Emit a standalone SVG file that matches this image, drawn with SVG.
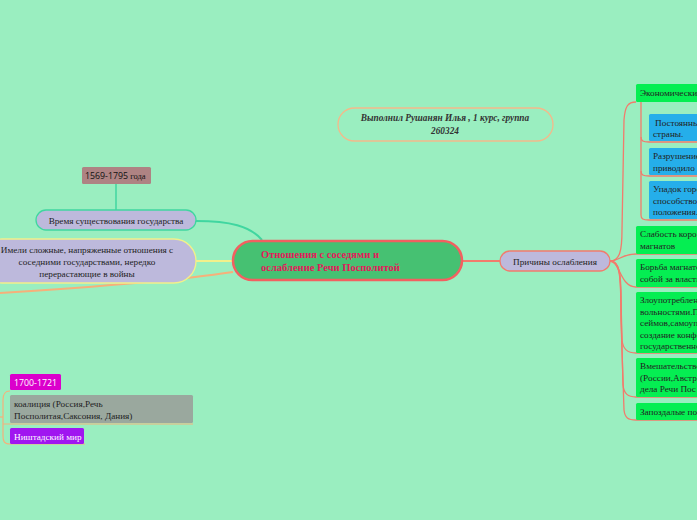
<svg xmlns="http://www.w3.org/2000/svg" width="697" height="520" viewBox="0 0 697 520">
<style>
.s{font-family:"Liberation Serif","DejaVu Serif",serif;}
.ss{font-family:"Open Sans","DejaVu Sans",sans-serif;}
.t8{font-size:9.2px;fill:#222;}
.g{fill:#05ee52;}
.b{fill:#25aeea;}
.ln{fill:none;stroke:#f27b6c;stroke-width:1.3;}
</style>
<rect width="697" height="520" fill="#9aeec0"/>
<g id="connectors" fill="none">
<line x1="116" y1="184" x2="116" y2="210" stroke="#40d6a0" stroke-width="1.5"/>
<path d="M196 221 C230 221 250 226 262 240" stroke="#40d6a0" stroke-width="2"/>
<line x1="196" y1="261" x2="232" y2="261" stroke="#f2f08a" stroke-width="2"/>
<path d="M233 272 C180 280 80 288 0 293" stroke="#f6b07a" stroke-width="2"/>
<path d="M10 391 C4 391 3 395 3 400 L3 436 C3 441 4 444 10 444" stroke="#f6b07a" stroke-width="1.2"/>
<line x1="0" y1="417" x2="3" y2="417" stroke="#f6b07a" stroke-width="1.2"/>
<line x1="3" y1="424" x2="193" y2="424" stroke="#f6b07a" stroke-width="1.2"/>
<line x1="10" y1="444" x2="85" y2="444" stroke="#f6b07a" stroke-width="1.2"/>
<line x1="463" y1="261" x2="500" y2="261" stroke="#f27b6c" stroke-width="2"/>
<path class="ln" d="M610 261 C620 261 622 250 622 230 L624 120 C625 106 628 102 636 102"/>
<path class="ln" d="M610 261 C620 261 621 254 636 254"/>
<path class="ln" d="M610 261 C620 261 620 287 636 287"/>
<path class="ln" d="M610 261 C620 261 621 275 621 300 L622 340 C623 350 628 353 636 353"/>
<path class="ln" d="M610 261 C620 261 621 275 621 310 L623 385 C624 394 628 397 636 397"/>
<path class="ln" d="M610 261 C620 261 621 275 621 320 L624 410 C625 418 628 420 636 420"/>
<line class="ln" x1="636" y1="254" x2="697" y2="254"/>
<line class="ln" x1="636" y1="287" x2="697" y2="287"/>
<line class="ln" x1="636" y1="353" x2="697" y2="353"/>
<line class="ln" x1="636" y1="397" x2="697" y2="397"/>
<line class="ln" x1="636" y1="420" x2="697" y2="420"/>
<path class="ln" d="M641 102 L641 215 C641 219 643 220 649 220 L697 220"/>
<path class="ln" d="M641 137 C641 141 643 142 649 142 L697 142"/>
<path class="ln" d="M641 171 C641 175 643 176 649 176 L697 176"/>
</g>
<g id="central">
<rect x="233" y="241" width="229" height="39" rx="19.5" fill="#46c172" stroke="#f26060" stroke-width="2.5"/>
<text class="s" x="261" y="258" font-size="10.5" font-weight="bold" fill="#e3185a">Отношения с соседями и</text>
<text class="s" x="261" y="271" font-size="10.5" font-weight="bold" fill="#e3185a">ослабление Речи Посполитой</text>
</g>
<g id="author">
<rect x="338" y="108" width="215" height="33" rx="16.5" fill="none" stroke="#f4b98a" stroke-width="1.3"/>
<text class="s" x="445" y="121" font-size="9.3" font-style="italic" font-weight="bold" fill="#333" text-anchor="middle">Выполнил Рушанян Илья , 1 курс, группа</text>
<text class="s" x="445" y="133.5" font-size="9.3" font-style="italic" font-weight="bold" fill="#333" text-anchor="middle">260324</text>
</g>
<g id="years">
<rect x="82" y="167" width="69" height="17" rx="1.5" fill="#ae8383"/>
<text x="85" y="179" font-size="8.8" fill="#111"><tspan class="ss">1569-1795</tspan><tspan class="s" font-size="8.5"> года</tspan></text>
</g>
<g id="time">
<rect x="36" y="210" width="160" height="20" rx="10" fill="#bdb9dc" stroke="#40d6a0" stroke-width="1.3"/>
<text class="s t8" x="116" y="223.5" text-anchor="middle">Время существования государства</text>
</g>
<g id="relations">
<rect x="-20" y="239" width="216" height="44" rx="22" fill="#bdb9dc" stroke="#f2f08a" stroke-width="1.3"/>
<text class="s t8" x="87" y="252.5" text-anchor="middle">Имели сложные, напряженные  отношения с</text>
<text class="s t8" x="87" y="264.5" text-anchor="middle">соседними государствами, нередко</text>
<text class="s t8" x="87" y="276.5" text-anchor="middle">перерастающие в войны</text>
</g>
<g id="y1700">
<rect x="10" y="374" width="51" height="16" rx="1.5" fill="#db00cc"/>
<text class="ss" x="14" y="385.5" font-size="8.8" fill="#fff">1700-1721</text>
</g>
<g id="coalition">
<rect x="10" y="395" width="183" height="28" rx="1.5" fill="#9aa89e"/>
<text class="s t8" x="14" y="407">коалиция (Россия,Речь</text>
<text class="s t8" x="14" y="418.5">Посполитая,Саксония, Дания)</text>
</g>
<g id="nystad">
<rect x="10" y="428" width="74" height="16" rx="1.5" fill="#a016f0"/>
<text class="s" x="14" y="439.5" font-size="9.2" fill="#fff">Ништадский мир</text>
</g>
<g id="causes">
<rect x="500" y="251" width="110" height="20" rx="10" fill="#bdb9dc" stroke="#f27b6c" stroke-width="1.3"/>
<text class="s t8" x="555" y="264.5" text-anchor="middle">Причины ослабления</text>
</g>
<g id="econ">
<rect class="g" x="636" y="84" width="70" height="18" rx="1.5"/>
<text class="s t8" x="640" y="96">Экономические</text>
</g>
<g id="econ1">
<rect class="b" x="649" y="114" width="60" height="27" rx="1.5"/>
<text class="s t8" x="655" y="125.5">Постоянны</text>
<text class="s t8" x="653" y="137">страны.</text>
</g>
<g id="econ2">
<rect class="b" x="649" y="148" width="60" height="27" rx="1.5"/>
<text class="s t8" x="653" y="159">Разрушение</text>
<text class="s t8" x="653" y="170.5">приводило</text>
</g>
<g id="econ3">
<rect class="b" x="649" y="181" width="60" height="38" rx="1.5"/>
<text class="s t8" x="653" y="192">Упадок горо</text>
<text class="s t8" x="653" y="203.5">способство</text>
<text class="s t8" x="653" y="215">положения..</text>
</g>
<g id="weak">
<rect class="g" x="636" y="226" width="70" height="28" rx="1.5"/>
<text class="s t8" x="640" y="237">Слабость коро</text>
<text class="s t8" x="640" y="248.5">магнатов</text>
</g>
<g id="struggle">
<rect class="g" x="636" y="259" width="70" height="28" rx="1.5"/>
<text class="s t8" x="640" y="270">Борьба магнато</text>
<text class="s t8" x="640" y="281.5">собой за власть</text>
</g>
<g id="abuse">
<rect class="g" x="636" y="292" width="70" height="61" rx="1.5"/>
<text class="s t8" x="640" y="303">Злоупотреблен</text>
<text class="s t8" x="640" y="314.5">вольностями.П</text>
<text class="s t8" x="640" y="326">сеймов,самоуп</text>
<text class="s t8" x="640" y="337.5">создание конфе</text>
<text class="s t8" x="640" y="349">государственно</text>
</g>
<g id="interv">
<rect class="g" x="636" y="358" width="70" height="39" rx="1.5"/>
<text class="s t8" x="640" y="369">Вмешательство</text>
<text class="s t8" x="640" y="380.5">(России,Австр</text>
<text class="s t8" x="640" y="392">дела Речи Пос</text>
</g>
<g id="late">
<rect class="g" x="636" y="403" width="70" height="17" rx="1.5"/>
<text class="s t8" x="640" y="414.5">Запоздалые по</text>
</g>
</svg>
